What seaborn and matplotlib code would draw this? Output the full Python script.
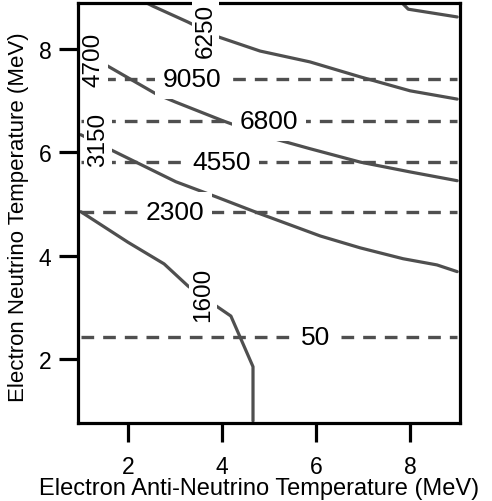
import numpy as np
import pandas as pd
import matplotlib
matplotlib.use("Agg")
import matplotlib.pyplot as plt
import seaborn as sns

# ---- data ----
solid_levels = [1600, 3150, 4700, 6250, 7800]
x_1600 = [1.0, 2.0, 2.77, 3.28, 3.87, 4.19, 4.66, 4.66]
y_1600 = [4.85, 4.26, 3.84, 3.41, 3.03, 2.83, 1.85, 0.80]
x_3150 = [1.0, 1.68, 3.02, 3.87, 4.81, 6.09, 6.94, 7.85, 8.57, 9.0]
y_3150 = [6.34, 6.03, 5.43, 5.14, 4.81, 4.38, 4.15, 3.94, 3.82, 3.69]
x_4700 = [1.0, 1.57, 2.60, 3.02, 4.02, 4.96, 5.87, 6.94, 8.0, 9.0]
y_4700 = [7.98, 7.67, 7.13, 6.97, 6.61, 6.30, 6.07, 5.81, 5.62, 5.45]
x_6250 = [2.40, 2.53, 3.28, 3.87, 4.81, 5.87, 6.94, 8.0, 9.0]
y_6250 = [8.89, 8.83, 8.52, 8.25, 7.96, 7.75, 7.46, 7.19, 7.03]
x_7800 = [7.83, 7.96, 9.0]
y_7800 = [8.89, 8.77, 8.62]

dashed_levels = [50, 2300, 4550, 6800, 9050]
dashed_y = [2.43, 4.85, 5.82, 6.61, 7.42]
dashed_x = [1.0, 9.0]

# label positions
solid_label_x = [3.59, 1.37, 1.28, 3.65]
solid_label_y = [3.26, 6.26, 7.80, 8.37]
dashed_label_x = [6.0, 3.0, 4.0, 5.0, 3.37]

xticks = [2, 4, 6, 8]
yticks = [2, 4, 6, 8]
xlabel = "Electron Anti-Neutrino Temperature (MeV)"
ylabel = "Electron Neutrino Temperature (MeV)"

# ---- build tables ----
solid_xs = [x_1600, x_3150, x_4700, x_6250, x_7800]
solid_ys = [y_1600, y_3150, y_4700, y_6250, y_7800]
rows = []
for lev, xs, ys in zip(solid_levels, solid_xs, solid_ys):
    for i, (a, b) in enumerate(zip(xs, ys)):
        rows.append(dict(level=lev, order=i, x=a, y=b))
df_solid = pd.DataFrame(rows)

rows = []
for lev, yv in zip(dashed_levels, dashed_y):
    for i, a in enumerate(dashed_x):
        rows.append(dict(level=lev, order=i, x=a, y=yv))
df_dash = pd.DataFrame(rows)

# ---- style ----
sns.set_style("ticks")
plt.rcParams["font.family"] = ["Liberation Sans", "DejaVu Sans"]

line_color = "#4f4f4f"

fig = plt.figure(figsize=(4.92, 5.02), dpi=100)
ax = fig.add_axes([78 / 492, 78 / 502, (460 - 78) / 492, (424 - 4) / 502])

sns.lineplot(data=df_solid, x="x", y="y", units="level", estimator=None,
             sort=False, color=line_color, lw=2.3, ax=ax)
sns.lineplot(data=df_dash, x="x", y="y", units="level", estimator=None,
             sort=False, color=line_color, lw=2.4,
             linestyle=(0, (3.8, 2.7)), ax=ax)

bbox = dict(boxstyle="square,pad=0.12", fc="white", ec="none")
for lev, lx, ly in zip(solid_levels[:4], solid_label_x, solid_label_y):
    z = 10 if lev == 6250 else 4
    ax.text(lx, ly, str(lev), rotation=90, ha="center", va="center",
            fontsize=17.5, color="black", bbox=bbox, zorder=z,
            clip_on=False, rotation_mode="anchor")
bbox2 = dict(boxstyle="square,pad=0.3", fc="white", ec="none")
for lev, lx, ly in zip(dashed_levels, dashed_label_x, dashed_y):
    ax.text(lx, ly, str(lev), ha="center", va="center",
            fontsize=19, color="black", bbox=bbox2, zorder=4)

ax.set_xlim(0.94, 9.06)
ax.set_ylim(0.76, 8.89)
ax.set_xticks(xticks)
ax.set_yticks(yticks)
ax.tick_params(direction="out", length=14, width=2.3, labelsize=16.5,
               color="black", labelcolor="black")
ax.tick_params(axis="x", pad=9)
ax.tick_params(axis="y", pad=5)
for s in ax.spines.values():
    s.set_linewidth(2.3)
    s.set_color("black")
    s.set_zorder(5)
ax.set_xlabel(xlabel, fontsize=17, color="black")
ax.set_ylabel(ylabel, fontsize=16, color="black")
ax.xaxis.set_label_coords(0.474, -0.129)
ax.yaxis.set_label_coords(-0.128, 0.4917)

fig.savefig("out.png", dpi=100)
